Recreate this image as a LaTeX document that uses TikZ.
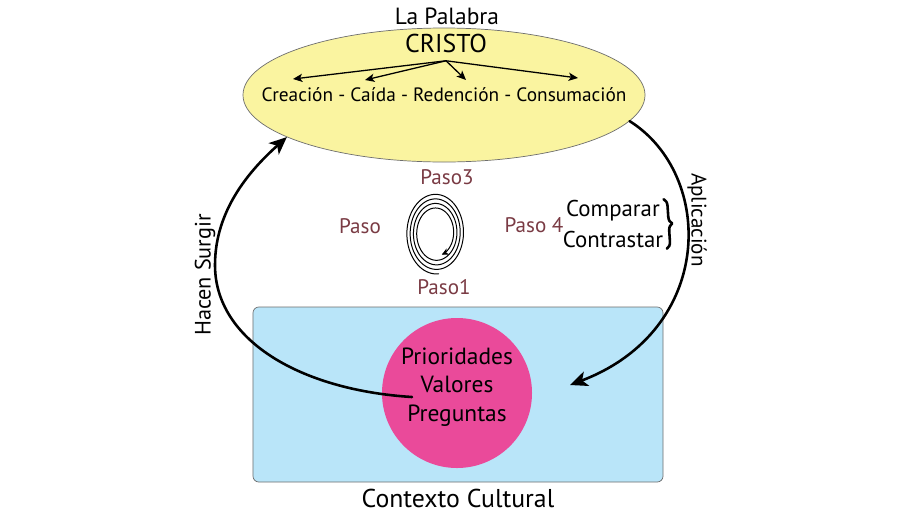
\documentclass[tikz,border=0pt]{standalone}
\usepackage{fontspec}
\setmainfont{PT Sans}
\usetikzlibrary{arrows.meta,positioning,shapes.geometric,decorations.pathreplacing}
\definecolor{wordyellow}{HTML}{FAF4A0}
\definecolor{cultureblue}{HTML}{B9E5F9}
\definecolor{valuepink}{HTML}{EA4A9A}
\definecolor{pasored}{HTML}{7A3B44}
\definecolor{edgegray}{HTML}{6E6E6E}

\begin{document}
\begin{tikzpicture}[>=Stealth, x=0.03cm, y=-0.03cm, line cap=round, line join=round,
    lbl/.style={inner sep=0pt, font=\fontsize{#1}{#1}\selectfont},
    pasolbl/.style={inner sep=0pt, text=pasored, font=\fontsize{18}{20}\selectfont},
    bigarrow/.style={-{Stealth[length=15pt,width=13pt,inset=4pt]}, line width=2.2pt},
    smallarrow/.style={-{Stealth[length=8pt,width=7pt,inset=2pt]}, line width=1.1pt}]
    \path[use as bounding box, fill=white] (0,0) rectangle (900,520);
    \node[ellipse, draw=edgegray, fill=wordyellow, line width=0.6pt, minimum width=12.06cm, minimum height=4.02cm, inner sep=0pt] (word) at (444,95) {};
    \node[lbl=20] (palabra) at (447,16) {La Palabra};
    \node[lbl=22] (cristo) at (446,43) {CRISTO};
    \node[lbl=16.5] (stages) at (444,95) {Creación - Caída - Redención - Consumación};
    \coordinate (Cre) at (293,79);
    \coordinate (Cai) at (365,80);
    \coordinate (Red) at (466,80);
    \coordinate (Con) at (578,78);
    \foreach \p in {Cre,Cai,Red,Con} \draw[smallarrow] ([yshift=-7pt]cristo.south) -- (\p);
    \node[draw=edgegray, fill=cultureblue, line width=0.6pt, rounded corners=5pt, minimum width=12.3cm, minimum height=5.25cm, inner sep=0pt] (ctx) at (458,394.5) {};
    \node[circle, fill=valuepink, minimum size=4.5cm, inner sep=0pt] (vals) at (457,393) {};
    \node[inner sep=0pt, align=center, font=\fontsize{20}{24.6}\selectfont] (valtext) at (457,387) {Prioridades\\Valores\\Preguntas};
    \node[lbl=22] (cultural) at (458,498) {Contexto Cultural};
    \draw[line width=0.85pt, -{Stealth[length=6pt,width=6pt,inset=2pt]}] plot[smooth, domain=85:1510, samples=300, variable=\t] ({436+(30-13*((\t-85)/1425))*cos(\t)}, {233+(41-18*((\t-85)/1425))*sin(\t)});
    \node[pasolbl] (paso3) at (447,177) {Paso3};
    \node[pasolbl] (paso2) at (360,226) {Paso};
    \node[pasolbl] (paso4) at (534,225) {Paso 4};
    \node[pasolbl] (paso1) at (444,287) {Paso1};
    \node[lbl=19.5] (comparar) at (613,211) {Comparar};
    \node[lbl=19.5] (contrastar) at (613,239) {Contrastar};
    \draw[decorate, decoration={brace, amplitude=6pt}, line width=2.2pt] ([xshift=3pt, yshift=1pt]comparar.north east) -- ([xshift=3pt, yshift=-1pt]contrastar.south east);
    \coordinate (hsStart) at (412,397);
    \draw[bigarrow] (hsStart) .. controls (300,390) and (215,340) .. (215,265) .. controls (215,210) and (250,170) .. (word.195);
    \node[lbl=19, rotate=90] (hacen) at (205,275) {Hacen Surgir};
    \coordinate (apEnd) at (570,385);
    \draw[bigarrow] (word.-8) .. controls (715,175) and (715,330) .. (apEnd);
    \node[lbl=18, rotate=-90] (aplic) at (697,220) {Aplicación};
\end{tikzpicture}
\end{document}
